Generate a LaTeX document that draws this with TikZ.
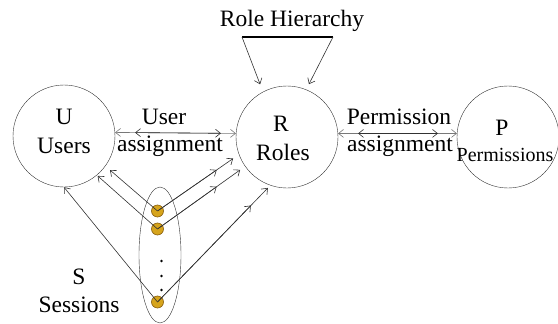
\documentclass[tikz,border=0pt]{standalone}
\usepackage{fontspec}
\setmainfont{Liberation Serif}[Ligatures=TeX]
\usetikzlibrary{arrows.meta,shapes.geometric}
\definecolor{dotgold}{RGB}{214,164,28}
\definecolor{dotedge}{RGB}{135,92,12}
\definecolor{linedark}{RGB}{50,50,50}
\definecolor{linegray}{RGB}{120,120,120}
\tikzset{
  setcircle/.style={circle,draw=linedark,thin,minimum size=102pt,inner sep=0pt},
  sessiondot/.style={circle,draw=dotedge,fill=dotgold,minimum size=12pt,inner sep=0pt},
  lbl/.style={inner sep=0pt},
  small/.style={inner sep=0pt,font=\rmfamily\fontsize{20}{24}\selectfont},
}
\begin{document}
\begin{tikzpicture}[x=1pt,y=-1pt,font=\rmfamily\fontsize{23.5}{29}\selectfont,
  >={Straight Barb[length=5pt,width=8pt]},line width=0.6pt]
\useasboundingbox (0,0) rectangle (558,324);

% the three sets
\node[setcircle] (U) at (64,136) {};
\node[setcircle] (R) at (287,137) {};
\node[setcircle] (P) at (508,137) {};
\node[lbl] (Ut) at (64,117) {U};
\node[lbl] (Un) at (64,146) {Users};
\node[lbl] (Rt) at (281,124) {R};
\node[lbl] (Rn) at (283,152) {Roles};
\node[lbl] (Pt) at (502,128) {P};
\node[small] (Pn) at (505,155) {Permissions};

% assignments
\node[lbl] (UAa) at (164,117) {User};
\node[lbl] (UAb) at (170,146) {assignment};
\node[lbl] (PAa) at (399,117) {Permission};
\node[lbl] (PAb) at (400,146) {assignment};
\draw[linegray,<->] (U.4) -- (R.176);
\draw[linedark,<->,shorten <=20pt,shorten >=15pt] (U.4) -- (R.176);
\draw[linegray,<->] (R.4) -- (P.176);
\draw[linedark,<->,shorten <=20pt,shorten >=19pt] (R.4) -- (P.176);

% role hierarchy
\node[lbl] (RH) at (292,21) {Role Hierarchy};
\coordinate (hl) at (242,37);
\coordinate (hr) at (333,37);
\draw[line width=1.3pt] (hl) -- (hr);
\draw[linedark,->,shorten >=8pt] (hl) -- (R.118);
\draw[linedark,->,shorten >=6pt] (hr) -- (R.68);

% sessions
\node[ellipse,draw=linedark,thin,minimum width=42pt,minimum height=136pt,inner sep=0pt] (S) at (160,255) {};
\node[lbl] (St) at (79,277) {S};
\node[lbl] (Sn) at (79,305) {Sessions};
\node[sessiondot] (s1) at (157.5,211) {};
\node[sessiondot] (s2) at (157.5,229) {};
\node[sessiondot] (s3) at (157.5,302) {};
\fill (161.5,261) circle[radius=1.3pt];
\fill (161.5,276) circle[radius=1.3pt];
\fill (161.5,290) circle[radius=1.3pt];

\draw[linedark,->,shorten >=6pt] (s1.center) -- (U.-36);
\draw[linedark,->,shorten >=1pt] (s2.center) -- (U.-50);
\draw[linedark,->] (s3.center) -- (U.-90);

\draw[linedark,->,shorten >=7pt] (s1.center) -- (R.200);
\draw[linedark,->,shorten >=27pt] (s1.center) -- (R.200);
\draw[linedark,->,shorten >=6pt] (s2.center) -- (R.215);
\draw[linedark,->,shorten >=35pt] (s2.center) -- (R.215);
\draw[linedark,->,shorten >=3.5pt] (s3.center) -- (R.251);
\draw[linedark,->,shorten >=28pt] (s3.center) -- (R.251);
\end{tikzpicture}
\end{document}
